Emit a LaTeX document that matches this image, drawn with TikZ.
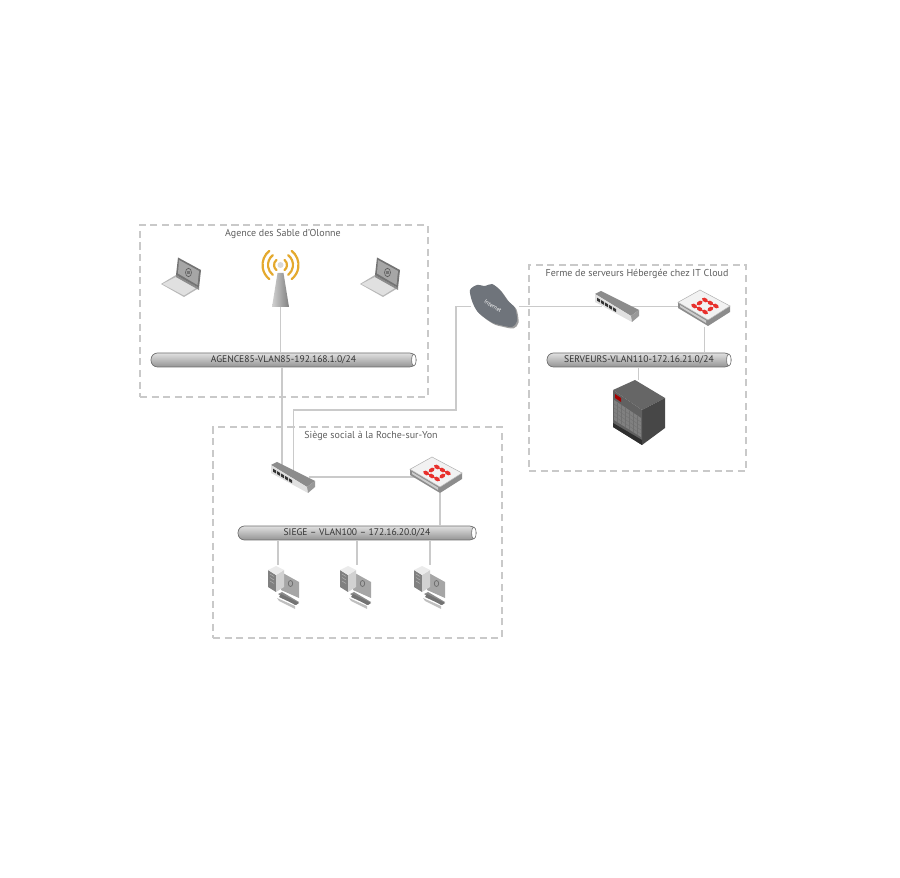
\documentclass[tikz,border=0pt]{standalone}
\usepackage{fontspec}
\setmainfont{PT Sans}
\definecolor{zoneline}{HTML}{C9C9C9}
\definecolor{linkline}{HTML}{CACACA}
\definecolor{titletext}{HTML}{5E5E5E}
\definecolor{pipetext}{HTML}{333333}
\definecolor{pipeedge}{HTML}{6E6E6E}
\definecolor{wavegold}{HTML}{E4A92E}
\definecolor{fwred}{HTML}{E8302C}
\definecolor{cloudgrey}{HTML}{6F747B}
\tikzset{
    notebook/.pic={
        \fill [black!28] (0,-27) -- (23,-40) -- (38,-31) -- (15,-18) -- cycle;
        \fill [black!12] (1.5,-27) -- (23,-38.5) -- (35,-31) -- (15,-20) -- cycle;
        \fill [black!45] (15,-18) -- (38,-31) -- (38,-33) -- (15,-20) -- cycle;
        \fill [black!55] (17,-0.5) -- (40,-13) -- (38,-31) -- (15,-18) -- cycle;
        \fill [black!35] (18,-3) -- (38,-14) -- (36.5,-28) -- (17,-16.5) -- cycle;
        \draw [black!65, line width=0.35pt] (27.5,-15.5) ellipse (3 and 4.2);
        \fill [black!55] (26.3,-14.5) rectangle (28.7,-17);
    },
    antenna/.pic={
        \shade [left color=black!18, right color=black!50] (5.5,0) -- (11.5,0) -- (17,-34) -- (0,-34) -- cycle;
        \foreach \r in {6.5,12.5,18} {
            \draw [wavegold, line width=1.25pt, line cap=round] ({8.5+\r*cos(52)},{8+\r*sin(52)}) arc (52:-52:\r);
            \draw [wavegold, line width=1.25pt, line cap=round] ({8.5-\r*cos(52)},{8+\r*sin(52)}) arc (128:232:\r);
        }
        \fill [black!15] (8.5,8) circle (3);
    },
    swbox/.pic={
        \fill [black!45] (0,-4) -- (6,-1) -- (44,-20) -- (36,-26) -- cycle;
        \fill [black!12] (0,-4) -- (36,-26) -- (37,-32) -- (0,-12) -- cycle;
        \fill [black!40] (36,-26) -- (44,-20) -- (44,-26) -- (37,-32) -- cycle;
        \foreach \c in {2,6,10,14,18} {
            \fill [black!80] (\c,{-6.5-0.6*\c}) -- ++(3,-1.8) -- ++(0,-3) -- ++(-3,1.8) -- cycle;
        }
    },
    fwbox/.pic={
        \fill [black!45] (0,-12.3) -- (30,-30) -- (52,-16) -- (52,-22) -- (30,-36) -- (0,-18) -- cycle;
        \fill [black!20] (2,-15) -- (28,-30.5) -- (28,-33) -- (2,-17) -- cycle;
        \fill [black!5] (0,-12.3) -- (22,0) -- (52,-16) -- (30,-30) -- cycle;
        \draw [black!30, line width=0.3pt] (0,-12.3) -- (22,0) -- (52,-16) -- (30,-30) -- cycle;
        \foreach \a/\b in {-1/-1,0/-1,1/-1,-1/1,0/1,1/1} {
            \draw [fwred, line width=2.1pt, line cap=round] ({27+5.4*(\a-\b)},{-16-3*(\a+\b)}) ++(-1.3,0.75) -- ++(2.6,-1.5);
        }
        \foreach \a/\b in {-1/0,1/0} {
            \draw [fwred, line width=2.1pt, line cap=round] ({27+5.4*(\a-\b)},{-16-3*(\a+\b)}) ++(1.3,0.75) -- ++(-2.6,-1.5);
        }
    },
    pcbox/.pic={
        \fill [black!45] (10,-29) -- (14,-27) -- (31,-37) -- (27,-40) -- cycle;
        \fill [black!25] (9,-33) -- (27,-41) -- (27,-44) -- (11,-36) -- cycle;
        \fill [black!55] (13,-29) -- (31,-38) -- (28,-40) -- (11,-32) -- cycle;
        \fill [black!35] (13,-7) -- (31,-17) -- (31,-33) -- (13,-25) -- cycle;
        \draw [black!60, line width=0.35pt] (22.5,-18.5) ellipse (2.2 and 3);
        \fill [black!50] (0,-5) -- (8,-10) -- (8,-27) -- (0,-22) -- cycle;
        \fill [black!18] (8,-10) -- (16,-5) -- (16,-22) -- (8,-27) -- cycle;
        \fill [black!8] (0,-5) -- (8,-1) -- (16,-5) -- (8,-10) -- cycle;
        \draw [black!30, line width=0.3pt] (2,-9) -- (6,-11.5) (2,-12.5) -- (6,-15) (2,-16) -- (6,-18.5);
    },
    cloudshape/.pic={
        \fill [black!38, xshift=0.03cm, yshift=-0.03cm] plot [smooth cycle] coordinates {(0,-7) (7,-2) (15,-3) (22,-1) (30,-7) (38,-18) (45,-25) (47,-38) (42,-44) (30,-42) (23,-40) (15,-35) (7,-28) (2,-18)};
        \fill [cloudgrey] plot [smooth cycle] coordinates {(0,-7) (7,-2) (15,-3) (22,-1) (30,-7) (38,-18) (45,-25) (47,-38) (42,-44) (30,-42) (23,-40) (15,-35) (7,-28) (2,-18)};
    },
    rackbox/.pic={
        \fill [black!60] (0,-10) -- (22,0) -- (52,-18) -- (29,-30) -- cycle;
        \fill [black!72] (29,-30) -- (52,-18) -- (52,-48) -- (29,-65) -- cycle;
        \fill [black!62] (0,-10) -- (29,-30) -- (29,-65) -- (0,-47) -- cycle;
        \fill [black!50] (1,-20) -- (28,-38) -- (28,-57) -- (1,-40) -- cycle;
        \foreach \c in {4,8,...,24} {
            \draw [black!56, line width=0.2pt] (\c,{-20-0.67*\c}) -- ++(0,-19);
        }
        \foreach \d in {4,8,12,16} {
            \draw [black!56, line width=0.2pt] (1,{-20-\d}) -- (28,{-38-\d});
        }
        \fill [black!82] (0,-43) -- (29,-60) -- (29,-65) -- (0,-47) -- cycle;
        \fill [red!65!black] (2,-14) -- (8,-18) -- (8,-22) -- (2,-18) -- cycle;
    }
}
\begin{document}
\begin{tikzpicture}[x=0.02cm, y=0.02cm]
        \tikzstyle{every node}+=[inner sep=0pt]
        \tikzstyle{zone}=[draw=zoneline, line width=0.7pt, dash pattern=on 4pt off 2.6pt]
        \tikzstyle{title}=[text=titletext, font=\fontsize{5.7}{6.5}\selectfont]
        \tikzstyle{pipe}=[draw=pipeedge, line width=0.4pt, rounded corners=0.13cm, top color=black!12, bottom color=black!42, minimum height=0.28cm, text=pipetext, font=\fontsize{5.45}{6}\selectfont]
        \tikzstyle{pipecap}=[draw=pipeedge, fill=white, line width=0.35pt]
        \tikzstyle{link}=[draw=linkline, line width=0.75pt]
        \useasboundingbox (0,0) rectangle (900,-878);
        \node (zoneA) [zone, minimum width=5.76cm, minimum height=3.44cm] at (284,-311) {};
        \node (zoneB) [zone, minimum width=4.34cm, minimum height=4.12cm] at (637.5,-368) {};
        \node (zoneC) [zone, minimum width=5.78cm, minimum height=4.22cm] at (357.5,-532.5) {};
        \node (titleA) [title] at (283,-234) {Agence des Sable d'Olonne};
        \node (titleB) [title] at (637,-274) {Ferme de serveurs Hébergée chez IT Cloud};
        \node (titleC) [title] at (371,-436) {Siège social à la Roche-sur-Yon};
        \node (pipeA) [pipe, minimum width=5.3cm] at (283.5,-360) {AGENCE85-VLAN85-192.168.1.0/24};
        \node (pipeB) [pipe, minimum width=3.68cm] at (639,-360) {SERVEURS-VLAN110-172.16.21.0/24};
        \node (pipeC) [pipe, minimum width=4.76cm] at (357,-533) {SIEGE -- VLAN100 -- 172.16.20.0/24};
        \draw [pipecap] ([xshift=-0.05cm]pipeA.east) ellipse (2.2 and 6);
        \draw [pipecap] ([xshift=-0.05cm]pipeB.east) ellipse (2.2 and 6);
        \draw [pipecap] ([xshift=-0.05cm]pipeC.east) ellipse (2.2 and 6);
        \node (apA) [minimum width=0.34cm, minimum height=0.68cm] at (280.5,-290) {};
        \node (swA) [minimum width=0.6cm, minimum height=0.22cm] at (293.5,-477) {};
        \node (fwA) [minimum width=0.6cm, minimum height=0.64cm] at (440,-477) {};
        \node (pcA) [minimum width=0.6cm, minimum height=0.8cm] at (278,-585) {};
        \node (pcB) [minimum width=0.6cm, minimum height=0.8cm] at (357,-585) {};
        \node (pcC) [minimum width=0.6cm, minimum height=0.8cm] at (430,-585) {};
        \node (netA) [minimum width=0.96cm, minimum height=0.9cm] at (495,-306.7) {};
        \node (swB) [minimum width=0.6cm, minimum height=0.22cm] at (617,-306.7) {};
        \node (fwB) [minimum width=1.06cm, minimum height=0.78cm] at (704.5,-306.7) {};
        \node (rackB) [minimum width=1.04cm, minimum height=1.3cm] at (638.5,-412.5) {};
        \coordinate (bendA) at (456,-410);
        \draw [link] (apA.south) -- (apA.south |- pipeA.north);
        \draw [link] ([xshift=-0.23cm]swA.north) -- ([xshift=-0.23cm]swA.north |- pipeA.south);
        \draw [link] (swA.north) |- (bendA) |- (netA.west);
        \draw [link] (swA.east) -- (fwA.west);
        \draw [link] (fwA.south) -- (fwA.south |- pipeC.north);
        \draw [link] (pcA.north) -- (pcA.north |- pipeC.south);
        \draw [link] (pcB.north) -- (pcB.north |- pipeC.south);
        \draw [link] (pcC.north) -- (pcC.north |- pipeC.south);
        \draw [link] (netA.east) -- (swB.west);
        \draw [link] (swB.east) -- (fwB.west);
        \draw [link] (fwB.south) -- (fwB.south |- pipeB.north);
        \draw [link] (rackB.north) -- (rackB.north |- pipeB.south);
        \pic (lapA) at (161,-257) {notebook};
        \pic (lapB) at (360,-257) {notebook};
        \pic at (272,-273) {antenna};
        \pic at (271,-461) {swbox};
        \pic at (410,-457) {fwbox};
        \pic at (268,-565) {pcbox};
        \pic at (340,-565) {pcbox};
        \pic at (414,-565) {pcbox};
        \pic at (470,-283) {cloudshape};
        \pic at (595,-290) {swbox};
        \pic at (678,-290) {fwbox};
        \pic at (613,-380) {rackbox};
        \node (netlabel) [rotate=-32, text=white, font=\fontsize{3.2}{4}\selectfont] at (493,-306) {Internet};
\end{tikzpicture}
\end{document}
